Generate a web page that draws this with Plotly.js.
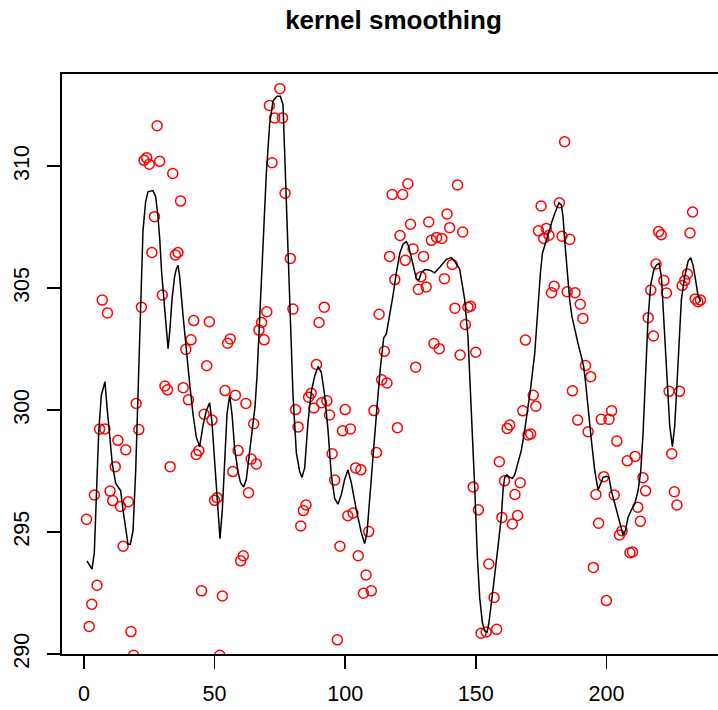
<!DOCTYPE html>
<html>
<head>
<meta charset="utf-8">
<script src="https://cdn.plot.ly/plotly-3.0.1.min.js"></script>
<style>
  html, body { margin: 0; padding: 0; background: #ffffff; overflow: hidden; }
  #chart { width: 735px; height: 710px; }
</style>
</head>
<body>
<div id="chart"></div>
<script>
// Observed series (index, value); a few indices have no observation.
const obsX = [
  1,2,3,4,5,6,7,8,9,10,11,12,13,14,15,16,17,18,19,20,
  21,22,23,24,25,26,27,28,29,30,31,32,33,34,35,36,37,38,39,40,
  41,42,43,44,45,46,47,48,49,50,51,52,53,54,55,56,57,58,59,60,
  61,62,63,64,65,66,67,68,69,70,71,72,73,75,76,77,79,80,
  81,82,83,84,85,86,87,88,89,90,91,92,93,94,95,96,97,98,99,100,
  101,102,103,104,105,106,107,108,109,110,111,112,113,114,115,116,117,118,119,120,
  121,122,123,124,125,126,127,128,129,130,131,132,133,134,135,136,137,138,139,140,
  141,142,143,144,145,146,147,148,149,150,151,152,154,155,157,158,159,160,
  161,162,163,164,165,166,167,168,169,170,171,172,173,174,175,176,177,178,179,180,
  182,183,184,185,186,187,188,189,190,191,192,193,194,195,196,197,198,199,200,
  201,202,203,204,205,206,208,209,210,211,212,213,214,215,216,217,218,219,220,
  221,222,223,224,225,226,227,228,229,230,231,232,233,234,235,236
];
const obsY = [
  295.52,291.13,292.04,296.52,292.82,299.22,304.51,299.23,303.98,296.68,
  296.29,297.68,298.76,296.05,294.42,298.37,296.24,290.92,289.95,300.27,
  299.20,304.22,310.24,310.35,310.08,306.46,307.93,311.66,310.20,304.72,
  300.99,300.83,297.68,309.70,306.36,306.46,308.57,300.92,302.49,300.42,
  302.88,303.67,298.18,298.34,292.59,299.83,301.82,303.62,299.59,296.30,
  296.41,289.95,292.38,300.80,302.74,302.92,297.48,300.61,298.34,293.82,
  294.03,300.27,296.61,297.99,299.44,297.79,303.28,303.59,302.88,304.03,
  312.49,310.14,311.98,313.18,311.98,308.89,306.22,304.14,
  300.02,299.31,295.25,295.88,296.11,300.53,300.69,300.09,301.87,303.59,
  300.30,304.22,300.38,299.80,298.21,297.13,290.58,294.42,299.15,300.02,
  295.67,299.23,295.78,297.63,294.03,297.55,292.49,293.24,295.02,292.59,
  299.98,298.26,303.93,301.24,302.41,301.11,306.30,308.84,305.35,299.28,
  307.16,308.84,306.14,309.28,307.62,306.61,301.76,304.95,305.47,306.30,
  305.05,307.71,306.96,302.73,307.08,302.52,307.04,305.39,308.04,307.48,
  305.97,304.18,309.23,302.26,307.30,303.51,304.22,304.26,296.85,302.37,
  295.91,290.85,290.90,293.69,292.32,291.01,297.88,295.60,
  297.10,299.25,299.39,295.33,296.54,295.68,297.02,299.97,302.87,298.98,
  299.02,300.61,300.16,307.35,308.37,307.04,307.45,307.17,304.81,305.08,
  308.50,307.13,311.00,304.85,307.00,300.79,304.81,299.59,304.34,303.76,
  301.83,299.11,301.37,293.55,296.54,295.36,299.62,297.27,292.19,
  299.62,299.97,296.52,298.73,294.88,295.05,297.92,294.15,294.18,298.10,
  296.02,295.44,297.23,296.69,303.79,304.92,303.04,305.99,307.32,
  307.19,305.31,304.80,300.77,298.21,296.65,296.11,300.77,305.11,305.31,
  305.58,307.26,308.12,304.56,304.44,304.51
];

// Kernel-smoothed curve (index, fitted value).
const smoothX = [
  1.16,3.08,3.97,4.74,5.63,6.65,8.05,8.82,9.84,10.86,12.14,13.04,14.06,14.95,15.97,16.87,17.76,18.78,19.8,20.7,
  21.6,22.6,23.6,24.5,26.4,27.45,28.3,29.0,29.75,30.6,31.5,32.2,32.9,33.7,34.7,35.36,36.0,36.64,37.92,39.19,
  40.47,41.75,43.02,44.3,45.57,46.85,48.12,49.0,49.78,50.67,51.57,52.08,52.97,53.87,54.76,55.78,56.68,57.7,58.97,59.99,
  61.14,62.16,63.44,64.46,65.49,66.25,67.27,68.55,69.82,71.1,72.38,73.91,75.18,76.2,77.47,78.75,80.03,81.3,82.58,83.47,
  84.5,85.77,87.05,88.32,89.6,90.87,92.15,93.42,94.7,95.98,97.25,98.53,99.8,101.08,102.36,104.27,106.19,107.46,108.36,109.63,
  110.91,112.19,113.46,114.74,115.76,117.04,118.3,119.59,120.87,122.14,123.42,124.31,125.33,126.23,127.25,128.25,129.16,130.43,131.71,132.99,
  134.26,136.18,138.73,140.65,141.92,143.83,145.75,147.03,148.3,149.6,150.6,151.5,152.5,153.4,154.3,155.0,155.96,157.24,158.51,159.79,
  160.43,161.07,161.96,162.98,164.0,164.9,166.17,167.45,168.73,170.0,170.9,172.56,173.83,174.73,175.49,176.38,177.66,178.93,180.21,181.1,
  181.86,182.76,183.4,184.03,184.67,185.31,185.95,186.84,187.86,189.14,190.41,191.31,192.07,192.97,194.24,195.52,196.8,197.82,198.71,199.99,
  201.01,201.9,203.82,205.1,206.37,207.26,208.28,209.56,210.83,212.11,213.13,214.03,214.92,215.94,216.96,218.24,219.13,220.15,221.05,221.68,
  222.58,223.34,224.24,225.26,226.15,226.79,227.68,228.7,229.98,231.25,232.27,233.17,234.06,235.08,236.1
];
const smoothY = [
  293.82,293.48,294.15,296.69,299.04,300.61,301.16,300.14,298.89,297.79,297.00,296.85,296.69,295.91,295.13,294.50,294.50,295.05,297.48,300.61,
  304.53,307.35,308.53,308.95,309.00,308.76,307.98,307.04,305.63,304.53,303.12,302.52,303.28,304.53,305.47,305.78,305.94,305.47,303.90,302.34,
  301.08,299.83,298.89,298.50,299.36,299.98,300.30,299.51,298.26,296.69,295.13,294.73,295.91,298.26,299.83,300.61,299.83,298.42,297.48,297.01,
  296.85,297.16,298.26,299.20,300.14,301.39,303.75,306.88,309.70,311.74,312.68,312.87,312.87,312.52,308.45,304.53,300.61,298.26,297.48,297.24,
  297.63,299.51,300.77,301.39,301.79,301.55,300.61,299.20,297.32,296.38,296.14,296.54,297.16,297.55,297.01,295.91,294.97,294.53,294.97,296.69,
  298.57,300.14,301.71,302.96,303.12,303.90,304.69,305.63,306.41,306.80,306.91,306.72,306.25,305.78,305.39,305.34,305.63,305.75,305.75,305.71,
  305.63,305.86,306.18,306.25,306.10,305.78,304.53,302.96,300.20,296.80,294.00,292.30,291.30,290.95,290.89,291.26,292.08,293.17,294.40,295.63,
  296.72,297.24,297.34,297.24,297.20,297.34,297.82,298.36,299.18,300.14,300.82,302.32,304.37,305.60,306.42,306.76,307.24,307.65,308.06,308.31,
  308.50,308.40,307.92,306.97,306.01,305.19,304.51,303.82,303.28,302.73,302.19,301.77,301.09,300.00,298.77,297.54,296.72,296.99,297.24,297.29,
  297.24,296.69,295.91,295.44,294.89,295.05,295.60,295.91,296.14,296.69,297.48,299.04,301.39,303.75,305.16,305.78,305.94,306.02,305.47,304.22,
  302.18,300.61,299.36,298.50,299.36,300.61,302.65,304.53,305.47,306.10,306.25,305.94,305.39,304.69,304.45
];

const xTicks = [0, 50, 100, 150, 200];
const yTicks = [290, 295, 300, 305, 310];

const baseFont = { family: 'Liberation Sans, Arial, Helvetica, sans-serif', color: '#000000' };

const traces = [
  {
    type: 'scatter', mode: 'markers', x: obsX, y: obsY,
    marker: { symbol: 'circle-open', size: 10, color: '#ff0000', line: { width: 1.5, color: '#ff0000' } },
    hoverinfo: 'x+y', showlegend: false
  },
  {
    type: 'scatter', mode: 'lines', x: smoothX, y: smoothY,
    line: { color: '#000000', width: 1.5 },
    hoverinfo: 'x+y', showlegend: false
  }
];

const axisCommon = {
  showgrid: false, zeroline: false,
  showline: true, mirror: true, linecolor: '#000000', linewidth: 1.8,
  ticks: 'outside', ticklen: 13, tickwidth: 1.6, tickcolor: '#000000',
  tickfont: Object.assign({ size: 21.5 }, baseFont)
};

const layout = {
  width: 735, height: 710,
  paper_bgcolor: '#ffffff', plot_bgcolor: '#ffffff',
  margin: { l: 62, r: 10, t: 74, b: 56 },
  font: baseFont,
  title: {
    text: '<b>kernel smoothing</b>',
    font: Object.assign({ size: 26 }, baseFont),
    x: 0.5, xref: 'paper', xanchor: 'center',
    y: 1 - 20 / 710, yref: 'container', yanchor: 'middle'
  },
  xaxis: Object.assign({}, axisCommon, {
    range: [-8.4, 245.4], tickvals: xTicks, ticktext: xTicks.map(String),
    ticklabelstandoff: 6
  }),
  yaxis: Object.assign({}, axisCommon, {
    range: [290, 313.78], tickvals: yTicks, ticktext: yTicks.map(String),
    tickangle: -90, ticklabelstandoff: 10
  })
};

Plotly.newPlot('chart', traces, layout, { displayModeBar: false, staticPlot: true });
</script>
</body>
</html>
